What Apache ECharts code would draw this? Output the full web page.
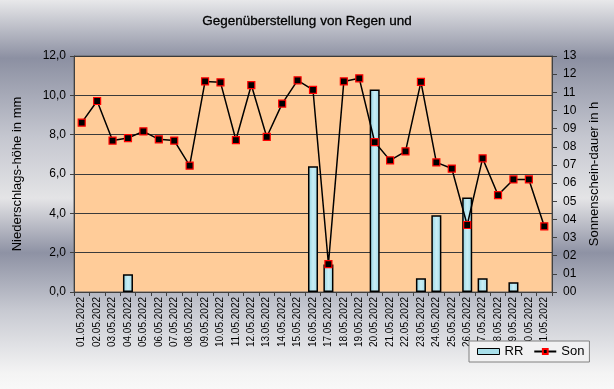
<!DOCTYPE html>
<html><head><meta charset="utf-8">
<script src="https://cdn.jsdelivr.net/npm/echarts@6/dist/echarts.min.js"></script>
<style>
html,body{margin:0;padding:0;}
#c{width:614px;height:389px;background:linear-gradient(to bottom,#e8e8ea 0%,#8c90a2 15%,#c4c6cf 35%,#e4e4e6 51%,#8e92a4 65%,#c8cad2 80%,#f4f4f4 96%,#f8f8f8 100%);}
</style></head>
<body><div id="c"></div>
<script>
const categories = ['01.05.2022','02.05.2022','03.05.2022','04.05.2022','05.05.2022','06.05.2022','07.05.2022','08.05.2022','09.05.2022','10.05.2022','11.05.2022','12.05.2022','13.05.2022','14.05.2022','15.05.2022','16.05.2022','17.05.2022','18.05.2022','19.05.2022','20.05.2022','21.05.2022','22.05.2022','23.05.2022','24.05.2022','25.05.2022','26.05.2022','27.05.2022','28.05.2022','29.05.2022','30.05.2022','31.05.2022'];
const rr = [0,0,0,0.9,0,0,0,0,0,0,0,0,0,0,0,6.4,1.4,0,0,10.3,0,0,0.7,3.9,0,4.8,0.7,0,0.5,0,0];
const son = [9.33,10.52,8.34,8.48,8.85,8.41,8.34,6.96,11.6,11.55,8.37,11.4,8.54,10.38,11.66,11.13,1.54,11.6,11.77,8.26,7.25,7.75,11.57,7.14,6.8,3.69,7.36,5.34,6.2,6.2,3.62];
const leftTicks = ['0,0','2,0','4,0','6,0','8,0','10,0','12,0'];
const rightTicks = ['00','01','02','03','04','05','06','07','08','09','10','11','12','13'];

const chart = echarts.init(document.getElementById('c'), null, {renderer:'canvas'});
const font = 'Liberation Sans, Arial, sans-serif';
chart.setOption({
  backgroundColor: 'transparent',
  animation: false,
  textStyle: {fontFamily: font, color: '#000'},
  title: {text: 'Gegenüberstellung von Regen und', left: 'center', top: 9,
    textStyle: {fontFamily: font, fontSize: 13.5, fontWeight: 'normal', color: '#000', textBorderColor: '#000', textBorderWidth: 0.3}},
  grid: {left: 74, right: 62, top: 56, bottom: 97, show: true, backgroundColor: '#ffcc99', borderColor: '#606060', borderWidth: 1},
  legend: {orient: 'horizontal', left: 469, top: 341, padding: [4, 5, 4, 8], itemGap: 10,
    backgroundColor: '#f1f1f2', borderColor: '#808080', borderWidth: 1, borderRadius: 0,
    textStyle: {fontFamily: font, fontSize: 13, color: '#000'},
    data: [{name: 'RR', icon: 'rect', itemStyle: {color: '#a8dfea', borderColor: '#000', borderWidth: 1}}, {name: 'Son'}],
    itemWidth: 22, itemHeight: 6},
  xAxis: {type: 'category', data: categories, boundaryGap: true,
    axisLine: {lineStyle: {color: '#404040', width: 1}},
    axisTick: {show: true, length: 4, alignWithLabel: false, lineStyle: {color: '#404040'}},
    axisLabel: {rotate: 90, interval: 0, fontSize: 10, margin: 5, color: '#000', fontFamily: font}},
  yAxis: [
    {type: 'value', min: 0, max: 12, interval: 2, position: 'left',
      name: 'Niederschlags-höhe in mm', nameLocation: 'middle', nameGap: 50, nameRotate: 90,
      nameTextStyle: {fontSize: 13, color: '#000', fontFamily: font},
      axisLine: {show: true, lineStyle: {color: '#404040'}},
      axisTick: {show: true, length: 4, lineStyle: {color: '#404040'}},
      axisLabel: {fontSize: 12, margin: 8, color: '#000', fontFamily: font,
        formatter: (v) => leftTicks[Math.round(v / 2)] || ''},
      splitLine: {show: true, lineStyle: {color: '#3a3a3a', width: 1}}},
    {type: 'value', min: 0, max: 13, interval: 1, position: 'right',
      name: 'Sonnenschein-dauer in h', nameLocation: 'middle', nameGap: 36, nameRotate: 90,
      nameTextStyle: {fontSize: 13, color: '#000', fontFamily: font},
      axisLine: {show: true, lineStyle: {color: '#404040'}},
      axisTick: {show: true, length: 5, lineStyle: {color: '#404040'}},
      axisLabel: {fontSize: 12, margin: 11, color: '#000', fontFamily: font,
        formatter: (v) => rightTicks[Math.round(v)] || ''},
      splitLine: {show: false}}
  ],
  series: [
    {name: 'RR', type: 'bar', yAxisIndex: 0, data: rr.map(v => v === 0 ? '-' : v), barWidth: '65%',
      itemStyle: {color: new echarts.graphic.LinearGradient(0, 0, 1, 0, [
        {offset: 0, color: '#8fd2e2'}, {offset: 0.5, color: '#c9eef5'}, {offset: 1, color: '#9fdae8'}]),
        borderColor: '#000', borderWidth: 1.5}},
    {name: 'Son', type: 'line', yAxisIndex: 1, data: son, symbol: 'rect', symbolSize: 7,
      lineStyle: {color: '#000', width: 1.5},
      itemStyle: {color: '#000', borderColor: '#ff0000', borderWidth: 1.2}, z: 5}
  ]
});
</script></body></html>
